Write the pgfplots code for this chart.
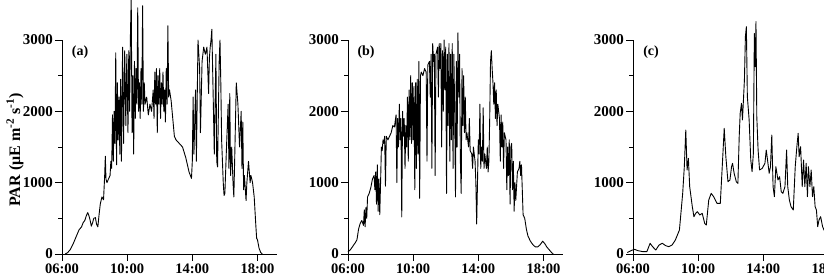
\documentclass[border=0pt]{standalone}
\usepackage{fontspec}
\setmainfont{Liberation Serif}
\usepackage{pgfplots}
\pgfplotsset{compat=1.18}
\pgfplotsset{panel/.style={
  scale only axis, width=215pt, height=214pt, anchor=south west,
  xmin=6, xmax=19.2, ymin=0, ymax=3000, clip=false,
  axis x line=bottom, axis y line=left,
  axis line style={-, line width=0.8pt, black},
  x axis line style={shorten <=-7pt},
  xtick={6,10,14,18}, xticklabels={06:00,10:00,14:00,18:00},
  ytick={0,1000,2000,3000}, yticklabels={0,1000,2000,3000},
  minor ytick={500,1500,2500},
  tick align=outside, major tick length=7pt, minor tick length=4pt,
  tick style={line width=0.8pt, black},
  /pgf/number format/assume math mode=true,
  yticklabel style={font=\bfseries\fontsize{15}{15}\selectfont, inner sep=2pt},
  xticklabel style={font=\bfseries\fontsize{14.5}{14.5}\selectfont, inner sep=3pt},
},
dl/.style={black, line width=0.9pt, line join=round, mark=none}}
\begin{document}
\begin{tikzpicture}
\useasboundingbox (0,0) rectangle (824pt,280pt);
\clip (0,0) rectangle (824pt,280pt);
\node[rotate=90, font=\bfseries\fontsize{16}{16}\selectfont] at (15pt,130pt) {PAR (μE m\textsuperscript{-2} s\textsuperscript{-1})};

% ---------------- (a) ----------------
\begin{axis}[panel, at={(62pt,26pt)}]
\addplot[dl] table {
6.20 0
6.35 20
6.50 60
6.70 150
6.90 260
7.05 340
7.20 380
7.30 440
7.40 470
7.50 540
7.58 580
7.65 540
7.72 480
7.80 390
7.88 440
7.95 500
8.05 510
8.12 420
8.20 380
8.28 560
8.35 700
8.45 800
8.55 760
8.62 1100
8.66 1370
8.70 1050
8.76 1000
8.85 1050
8.95 1100
9.00 1300
9.05 1200
9.10 1950
9.15 1300
9.20 2000
9.25 1550
9.30 2820
9.35 1250
9.40 2400
9.45 1600
9.50 2200
9.55 1400
9.60 2450
9.65 1300
9.72 2900
9.78 1550
9.85 2850
9.92 1800
9.98 2800
10.05 1700
10.10 2850
10.15 2000
10.20 3050
10.25 3600
10.30 1700
10.35 2500
10.40 1400
10.45 2700
10.50 1900
10.55 2600
10.60 2100
10.65 3450
10.70 2000
10.75 2400
10.80 1900
10.85 2600
10.90 2100
10.95 3480
11.00 2000
11.05 2400
11.10 2100
11.20 2200
11.30 1950
11.40 2100
11.50 2000
11.60 2300
11.65 1900
11.70 2550
11.75 2100
11.80 2600
11.85 1700
11.90 2500
11.95 2100
12.00 2600
12.05 1900
12.10 2400
12.15 2100
12.20 2550
12.25 2000
12.30 2300
12.35 1850
12.40 2600
12.45 2100
12.50 3200
12.55 2200
12.60 2300
12.70 2150
12.80 1900
12.90 1650
13.00 1600
13.20 1550
13.40 1500
13.60 1350
13.80 1150
13.95 1060
14.00 1300
14.05 2200
14.10 1400
14.20 2300
14.25 1300
14.35 3000
14.45 2600
14.50 1700
14.60 2700
14.70 2900
14.80 2800
14.90 2900
15.00 2250
15.05 2750
15.10 2900
15.15 3000
15.20 3150
15.30 2000
15.35 1400
15.45 2800
15.50 1300
15.55 1220
15.65 2700
15.70 3000
15.75 2400
15.80 1600
15.90 1000
15.95 820
16.00 850
16.10 1500
16.20 2100
16.25 1200
16.30 2250
16.35 1100
16.42 1500
16.50 1000
16.55 800
16.60 1300
16.70 2400
16.80 2100
16.90 1500
17.00 2000
17.05 1200
17.10 1850
17.15 900
17.20 1100
17.30 750
17.35 1000
17.45 1300
17.55 1000
17.60 1100
17.70 1000
17.80 800
17.90 400
17.95 220
18.00 200
18.10 80
18.20 20
18.30 0
};
\node[font=\bfseries\fontsize{14}{14}\selectfont] at (axis description cs:0.084,0.944) {(a)};
\end{axis}

% ---------------- (b) ----------------
\begin{axis}[panel, at={(348pt,26pt)}]
\addplot[dl] table {
6.00 30
6.15 60
6.30 110
6.45 160
6.55 200
6.65 350
6.75 430
6.85 470
6.95 400
7.00 620
7.05 380
7.10 650
7.15 500
7.20 800
7.30 850
7.40 930
7.50 1050
7.60 1100
7.65 900
7.70 1150
7.75 700
7.80 1250
7.85 600
7.90 1050
7.95 550
8.00 1000
8.05 1500
8.10 1450
8.15 1600
8.20 1550
8.25 1650
8.30 950
8.35 1650
8.45 1600
8.55 1650
8.65 1700
8.75 1800
8.85 1780
8.95 1950
9.00 1000
9.05 1900
9.10 1500
9.15 2100
9.20 1600
9.25 1900
9.30 520
9.35 2000
9.40 1650
9.45 1900
9.50 1200
9.55 1800
9.60 1500
9.65 2200
9.70 1300
9.75 2300
9.80 1600
9.85 2500
9.90 1550
9.95 2400
10.00 1600
10.05 2350
10.10 900
10.15 2400
10.20 1200
10.25 2450
10.30 1400
10.35 2700
10.40 780
10.45 2500
10.50 2550
10.60 2500
10.70 2600
10.80 2550
10.85 1300
10.90 2650
11.00 2700
11.05 2200
11.10 2800
11.15 1200
11.20 2950
11.25 2700
11.30 2800
11.35 1100
11.40 2800
11.50 2900
11.55 2200
11.60 2950
11.65 2600
11.70 2950
11.75 1500
11.80 2850
11.85 2000
11.90 3000
11.95 2300
12.00 2900
12.05 850
12.10 2800
12.15 1800
12.20 2950
12.25 1300
12.30 2800
12.35 1600
12.40 2950
12.45 1200
12.50 2800
12.55 2000
12.60 800
12.65 2700
12.70 1500
12.75 3100
12.80 2200
12.85 2800
12.90 1300
12.95 850
13.00 2600
13.05 1800
13.10 2500
13.15 1700
13.20 2200
13.25 1600
13.30 1700
13.40 1500
13.45 1900
13.50 1450
13.60 1400
13.65 1200
13.70 1500
13.80 1300
13.85 1000
13.90 420
13.95 1000
14.00 1600
14.05 1400
14.10 2100
14.15 1200
14.20 1500
14.25 1300
14.30 2050
14.35 1200
14.40 1400
14.50 1200
14.55 1500
14.60 1150
14.65 1300
14.70 1900
14.75 2700
14.80 2850
14.85 2600
14.90 2400
14.95 2100
15.00 2400
15.05 1900
15.10 2300
15.15 1800
15.20 2100
15.30 1900
15.35 1300
15.40 1950
15.45 1500
15.50 1850
15.55 1200
15.60 1700
15.70 1600
15.75 900
15.80 1500
15.85 1100
15.90 1600
15.95 700
16.00 1500
16.05 1550
16.10 900
16.15 1300
16.20 600
16.25 1000
16.30 750
16.40 1150
16.50 1200
16.55 1300
16.60 1100
16.65 1250
16.70 900
16.75 550
16.85 500
16.95 350
17.05 250
17.20 180
17.35 130
17.50 100
17.65 100
17.80 130
17.95 180
18.10 140
18.20 100
18.35 60
18.50 20
18.60 0
};
\node[font=\bfseries\fontsize{14}{14}\selectfont] at (axis description cs:0.084,0.944) {(b)};
\end{axis}

% ---------------- (c) ----------------
\begin{axis}[panel, at={(633pt,26pt)}]
\addplot[dl] table {
5.65 20
5.90 50
6.10 65
6.30 47
6.60 33
6.85 33
7.05 150
7.20 103
7.40 56
7.60 126
7.80 150
8.00 117
8.20 103
8.40 126
8.60 196
8.85 336
9.05 850
9.15 1224
9.24 1738
9.32 1178
9.40 1341
9.48 944
9.64 664
9.74 523
9.85 570
9.95 593
10.10 547
10.25 570
10.40 430
10.50 406
10.65 757
10.80 850
10.95 804
11.16 710
11.36 710
11.50 1318
11.60 1762
11.70 1364
11.83 1014
11.95 1037
12.05 1224
12.11 1271
12.21 1131
12.34 1014
12.44 990
12.52 1645
12.58 1972
12.66 2112
12.72 1879
12.78 2159
12.84 2439
12.90 3047
12.96 3187
13.02 2206
13.13 1879
13.23 1318
13.31 1154
13.39 1411
13.45 3093
13.50 2626
13.55 3257
13.60 1925
13.68 1458
13.77 1178
13.93 1200
14.10 1271
14.18 1458
14.26 1318
14.36 1131
14.44 1224
14.52 1668
14.60 944
14.68 804
14.77 1224
14.90 1037
15.00 1084
15.10 874
15.20 850
15.33 944
15.43 1458
15.50 944
15.60 757
15.70 664
15.84 617
15.96 1224
16.06 1505
16.14 1692
16.20 1364
16.29 1505
16.39 944
16.47 1318
16.55 944
16.63 1271
16.71 804
16.77 1224
16.86 944
16.94 1178
17.02 804
17.10 944
17.18 664
17.26 617
17.34 383
17.42 477
17.52 523
17.64 383
17.80 300
17.95 196
18.20 50
18.40 0
};
\node[font=\bfseries\fontsize{14}{14}\selectfont] at (axis description cs:0.084,0.944) {(c)};
\end{axis}
\end{tikzpicture}
\end{document}
